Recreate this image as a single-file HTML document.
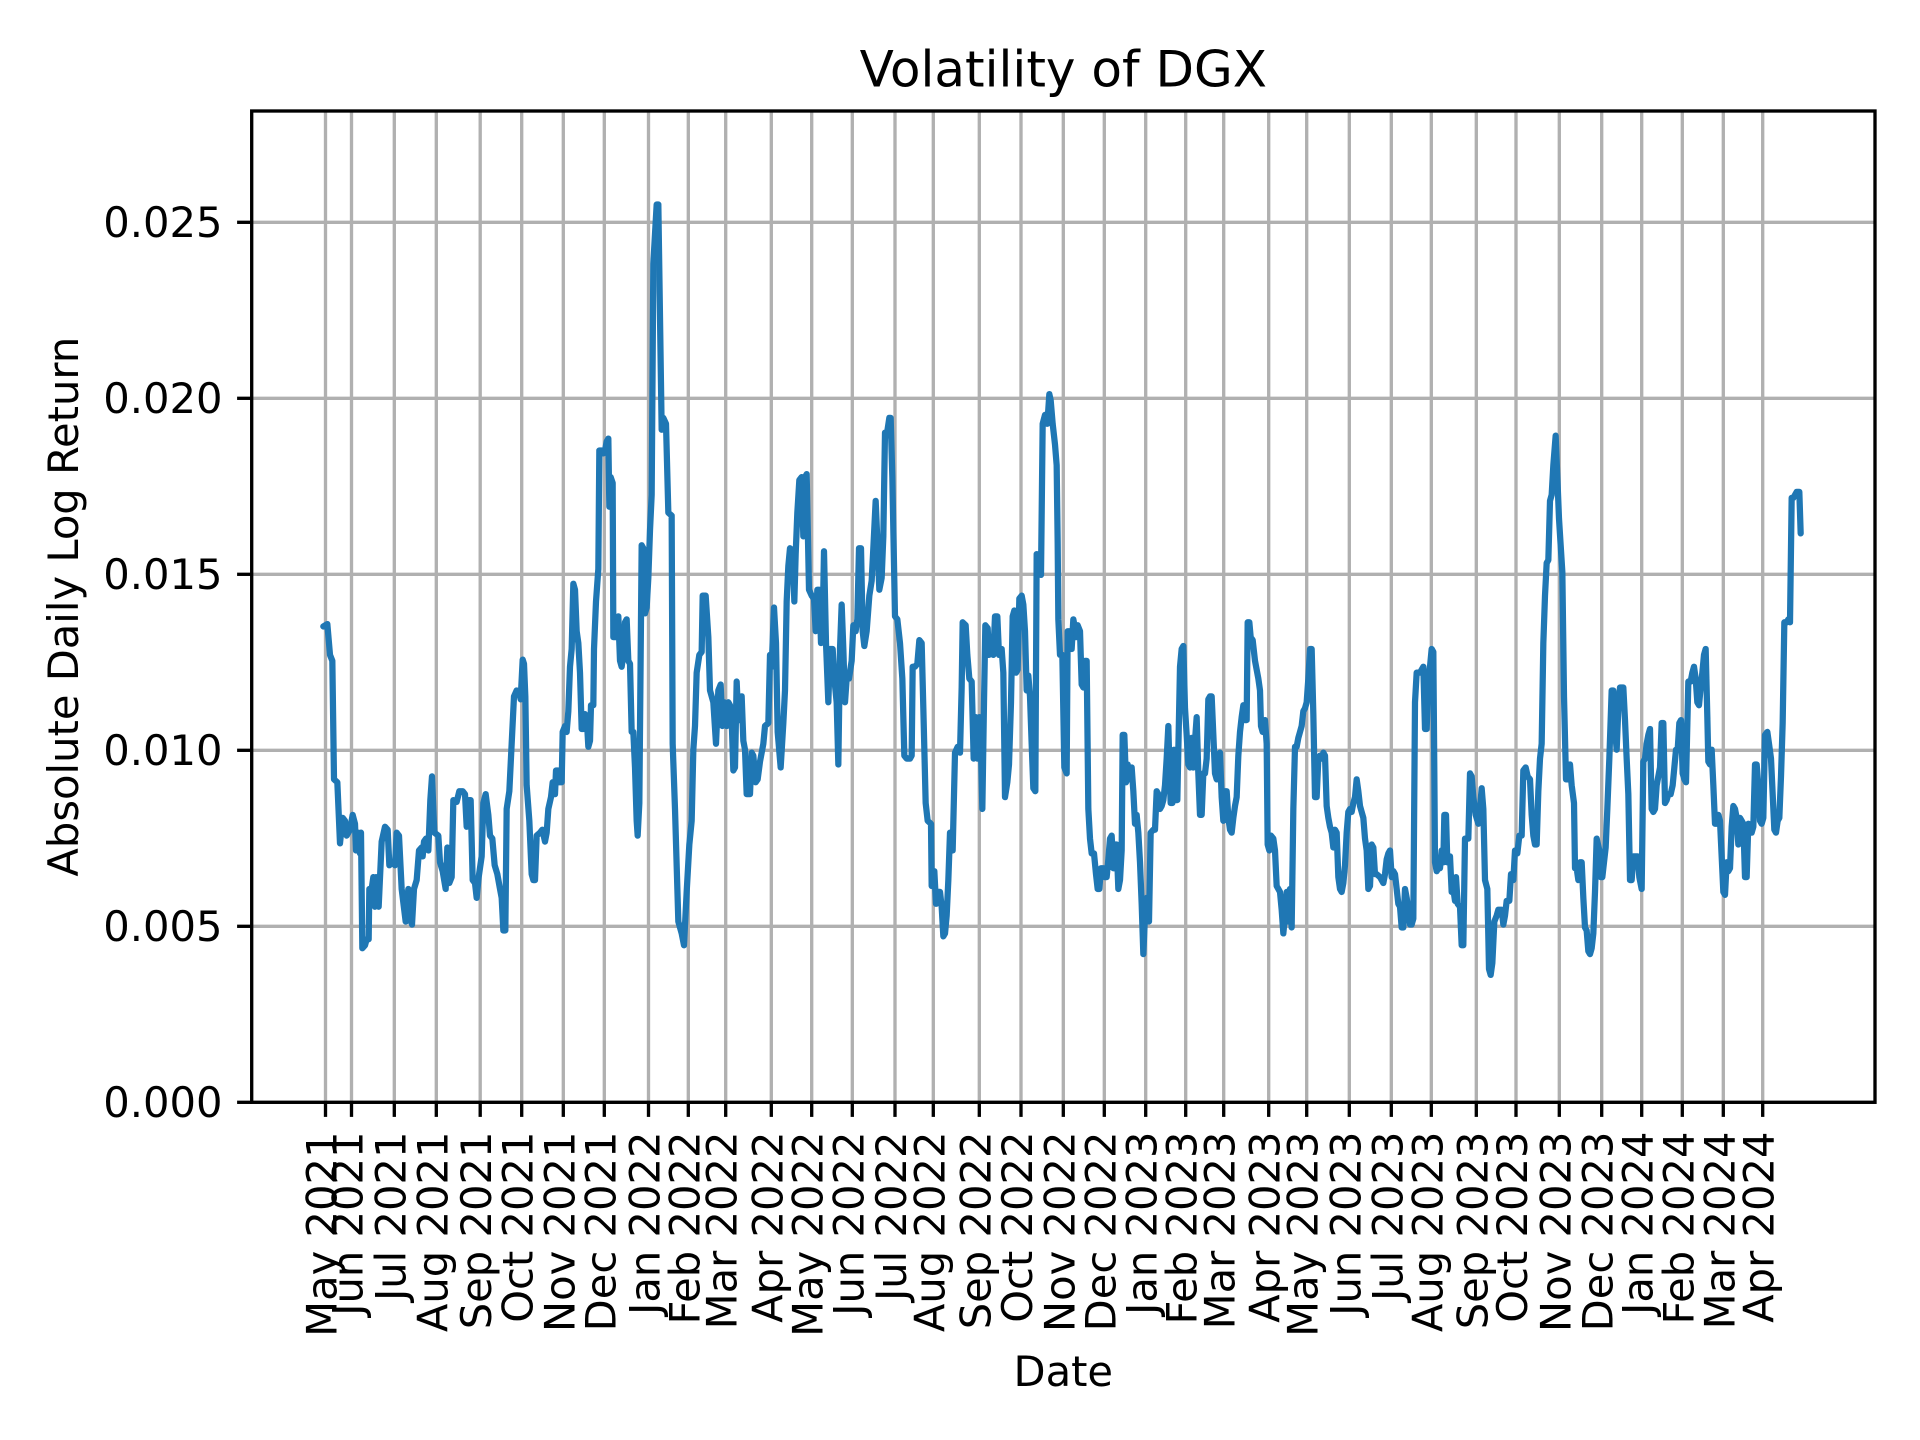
<!DOCTYPE html>
<html>
<head>
<meta charset="utf-8">
<style>
  html, body { margin: 0; padding: 0; background: #ffffff; }
  svg { display: block; }
  text { font-family: "DejaVu Sans", "Liberation Sans", sans-serif; fill: #000; }
</style>
</head>
<body>
<svg width="1920" height="1440" viewBox="0 0 1920 1440" xmlns="http://www.w3.org/2000/svg">
  <rect x="0" y="0" width="1920" height="1440" fill="#ffffff"/>

  <!-- horizontal grid -->
  <g stroke="#b0b0b0" stroke-width="3.33" fill="none">
    <line x1="251.7" x2="1875" y1="1102.3" y2="1102.3"/>
    <line x1="251.7" x2="1875" y1="926.3" y2="926.3"/>
    <line x1="251.7" x2="1875" y1="750.3" y2="750.3"/>
    <line x1="251.7" x2="1875" y1="574.3" y2="574.3"/>
    <line x1="251.7" x2="1875" y1="398.3" y2="398.3"/>
    <line x1="251.7" x2="1875" y1="222.3" y2="222.3"/>
  </g>
  <!-- vertical grid -->
  <g stroke="#b0b0b0" stroke-width="3.33" fill="none">
    <line x1="325.5" x2="325.5" y1="111" y2="1102.3"/>
    <line x1="351.5" x2="351.5" y1="111" y2="1102.3"/>
    <line x1="394.3" x2="394.3" y1="111" y2="1102.3"/>
    <line x1="436.3" x2="436.3" y1="111" y2="1102.3"/>
    <line x1="480.2" x2="480.2" y1="111" y2="1102.3"/>
    <line x1="521.7" x2="521.7" y1="111" y2="1102.3"/>
    <line x1="563.3" x2="563.3" y1="111" y2="1102.3"/>
    <line x1="604.3" x2="604.3" y1="111" y2="1102.3"/>
    <line x1="648.5" x2="648.5" y1="111" y2="1102.3"/>
    <line x1="688.3" x2="688.3" y1="111" y2="1102.3"/>
    <line x1="725.7" x2="725.7" y1="111" y2="1102.3"/>
    <line x1="771.3" x2="771.3" y1="111" y2="1102.3"/>
    <line x1="811.7" x2="811.7" y1="111" y2="1102.3"/>
    <line x1="852.3" x2="852.3" y1="111" y2="1102.3"/>
    <line x1="895" x2="895" y1="111" y2="1102.3"/>
    <line x1="933.3" x2="933.3" y1="111" y2="1102.3"/>
    <line x1="979.3" x2="979.3" y1="111" y2="1102.3"/>
    <line x1="1021" x2="1021" y1="111" y2="1102.3"/>
    <line x1="1063.3" x2="1063.3" y1="111" y2="1102.3"/>
    <line x1="1104.3" x2="1104.3" y1="111" y2="1102.3"/>
    <line x1="1145.7" x2="1145.7" y1="111" y2="1102.3"/>
    <line x1="1185.7" x2="1185.7" y1="111" y2="1102.3"/>
    <line x1="1223.7" x2="1223.7" y1="111" y2="1102.3"/>
    <line x1="1268.7" x2="1268.7" y1="111" y2="1102.3"/>
    <line x1="1306.7" x2="1306.7" y1="111" y2="1102.3"/>
    <line x1="1349.3" x2="1349.3" y1="111" y2="1102.3"/>
    <line x1="1391.3" x2="1391.3" y1="111" y2="1102.3"/>
    <line x1="1431.3" x2="1431.3" y1="111" y2="1102.3"/>
    <line x1="1476.3" x2="1476.3" y1="111" y2="1102.3"/>
    <line x1="1516" x2="1516" y1="111" y2="1102.3"/>
    <line x1="1559.3" x2="1559.3" y1="111" y2="1102.3"/>
    <line x1="1601.7" x2="1601.7" y1="111" y2="1102.3"/>
    <line x1="1641.7" x2="1641.7" y1="111" y2="1102.3"/>
    <line x1="1682.3" x2="1682.3" y1="111" y2="1102.3"/>
    <line x1="1723.3" x2="1723.3" y1="111" y2="1102.3"/>
    <line x1="1762.7" x2="1762.7" y1="111" y2="1102.3"/>
  </g>

  <!-- data line (traced segments) -->
  <g fill="none" stroke="#1f77b4" stroke-width="6.25" stroke-linejoin="round" stroke-linecap="round">
    <g transform="translate(250,222.3) scale(0.333333,0.592593) translate(0,-70)">
      <polyline vector-effect="non-scaling-stroke" points="220,752 232,748 240,800 247,810 252,1010 262,1015 270,1118 278,1075 285,1080 290,1105 300,1095 308,1070 315,1085 318,1130 325,1100 330,1135 333,1100 337,1295 345,1290 350,1280 356,1280 358,1195 365,1195 370,1175 375,1225 378,1175 386,1225 395,1115 405,1090 413,1095 418,1155 428,1150 435,1155 440,1100 447,1105 455,1195 467,1250 475,1195 480,1245 486,1255 492,1195 500,1180 507,1130 515,1125 518,1140 522,1115 528,1110 535,1130 541,1045 546,1005 553,1100 565,1105 570,1150 578,1165 587,1195 592,1125 598,1185 605,1175 610,1045 620,1048 628,1030 638,1030 645,1035 650,1090 657,1045 662,1045 668,1180 675,1185 680,1210 686,1175 695,1140 700,1050 707,1035 715,1070 720,1105 727,1110 734,1155 742,1170 750,1195 755,1210 760,1265 766,1265 770,1060 778,1030 785,950 792,870 800,860 808,865 812,875 818,808 822,815 826,870 830,1020 838,1080 845,1170 850,1180 855,1180 860,1105 870,1100 877,1095 885,1115 890,1100 895,1060 903,1040 908,1015 915,1035 918,995 925,995 928,1015 935,1015 938,930 945,920 950,930 955,895 960,820 965,790 970,680 975,690 980,760 985,780 990,830 995,925 1000,925 1005,900 1010,905 1015,955 1020,945 1023,885 1030,885 1032,790 1038,710 1045,655 1048,455 1055,455 1060,460 1065,455 1070,440 1075,435 1078,550 1082,500 1088,510 1090,770 1095,770 1100,740 1105,735 1110,810 1115,820 1120,800 1125,745 1130,740 1135,810 1140,815 1145,930 1150,930 1155,990 1160,1080 1163,1105 1168,1050 1172,800 1175,615 1180,620 1185,730 1190,720 1195,670 1200,590 1205,530 1210,140 1215,90 1220,40 1224,40"/>
    </g>
    <g transform="translate(660,222.3) scale(0.333333,0.592593) translate(0,-70)">
      <polyline vector-effect="non-scaling-stroke" points="-5,40 5,420 10,400 18,410 25,560 35,565 38,950 45,1060 55,1250 65,1270 72,1290 80,1200 88,1120 95,1080 100,960 105,920 110,830 118,800 125,795 128,700 137,700 145,770 150,860 160,880 168,950 175,860 182,850 187,920 192,880 200,920 205,880 210,885 215,910 220,995 225,990 230,845 235,910 240,895 245,870 250,945 255,960 260,1035 270,1035 275,965 280,970 287,1015 293,1010 300,980 310,950 315,920 325,915 330,800 335,820 342,720 348,780 353,930 362,990 370,915 375,860 380,710 385,650 390,620 398,625 403,710 407,630 412,560 418,505 425,500 430,600 435,500 440,495 447,690 455,700 462,705 467,760 472,690 478,690 483,780 488,750 492,625 498,780 505,880 510,790 518,790 523,840 530,880 535,985 540,790 545,715 550,790 555,880 560,840 567,840 575,810 580,750 587,760 592,740 597,620 603,620 608,760 613,785 620,760 628,700 635,675 640,620 647,540 653,620 658,690 665,670 670,600 675,425 680,430 688,400 692,400 697,500 705,735 712,740 720,780 727,840 733,970 740,975 750,975 755,970 758,820 765,820 772,815 778,775 785,780 790,890 797,1050 803,1080 813,1085 815,1190 823,1165 828,1220 833,1200 840,1200 845,1225 850,1275 855,1270 860,1240 865,1180 870,1100 878,1130 885,965 893,955 900,965 905,855 908,745 917,750 922,800 928,840 935,845 941,975 947,905 952,975 958,905 962,935 967,1060 972,880 976,750 983,755 987,800 993,795 1000,800 1005,735 1012,735 1017,800 1025,790 1030,830 1035,1040 1042,1015 1047,985 1053,880 1058,735 1063,725 1068,830 1073,825 1078,705 1085,700 1090,715 1095,760 1100,860 1105,835 1110,870 1115,950 1120,1025 1126,1030 1130,630 1137,635 1143,665 1148,410 1155,395 1162,410 1168,360 1172,370 1178,410 1185,445 1190,480 1193,610 1195,740 1200,800 1207,800 1213,990 1220,1000 1223,760 1230,760 1235,790 1240,740 1245,755 1250,760"/>
    </g>
    <g transform="translate(1070,222.3) scale(0.333333,0.592593) translate(0,-70)">
      <polyline vector-effect="non-scaling-stroke" points="18,770 23,750 30,760 35,850 40,855 45,810 50,810 55,1060 60,1110 65,1135 72,1135 78,1170 83,1195 88,1195 93,1160 100,1160 105,1175 110,1175 115,1145 120,1110 125,1105 130,1160 135,1120 140,1120 145,1195 150,1180 155,1130 158,935 163,935 168,1015 173,985 178,1010 185,990 190,1030 195,1085 200,1070 205,1100 210,1150 215,1220 220,1305 225,1240 230,1210 237,1250 242,1100 250,1095 255,1095 260,1030 265,1035 270,1060 275,1055 280,1045 285,1020 290,975 295,920 298,985 302,1050 307,1050 312,960 317,1045 322,1045 330,820 335,790 340,785 345,890 350,935 355,985 360,990 365,940 370,990 375,945 380,905 385,1000 390,1070 395,1070 400,1000 405,1000 410,975 415,875 420,870 425,870 430,935 435,1000 440,1010 445,970 450,965 455,1040 460,1080 465,1030 470,1030 475,1075 480,1095 485,1100 490,1075 495,1055 500,1040 505,970 510,930 515,905 520,885 525,910 530,910 533,745 538,745 542,770 548,775 555,810 565,840 570,860 573,920 578,930 585,910 590,950 593,1120 598,1130 603,1105 610,1110 615,1130 620,1190 625,1195 630,1200 635,1230 640,1270 645,1240 650,1200 655,1250 660,1195 665,1260 670,1060 675,955 680,955 685,940 690,930 695,920 700,895 705,890 710,880 715,840 720,790 725,790 730,900 735,1040 740,1040 745,975 750,970 755,975 760,965 765,970 770,1055 775,1075 780,1090 785,1100 790,1125 795,1095 800,1100 805,1175 810,1195 815,1200 820,1185 825,1155 830,1100 835,1065 840,1060 845,1065 850,1050 855,1040 860,1010 865,1030 870,1055 875,1065 880,1075 885,1110 890,1130 895,1195 900,1190 905,1120 910,1125 915,1170 920,1170 930,1175 935,1180 940,1185 945,1170 950,1145 955,1135 960,1130 965,1175 970,1165 975,1170 980,1195 985,1220 990,1225 995,1260 1000,1260 1005,1195 1010,1210 1015,1230 1020,1255 1025,1255 1030,1245 1035,880 1040,830 1045,830 1050,830 1055,825 1060,820 1065,925 1070,925 1075,840 1080,820 1085,790 1090,795 1093,1000 1095,1150 1100,1165 1105,1160 1110,1160 1115,1130 1120,1150 1123,1070 1128,1070 1132,1150 1140,1140 1145,1200 1150,1195 1155,1215 1158,1175 1163,1220 1170,1225"/>
    </g>
    <g transform="translate(1460,222.3) scale(0.333333,0.592593) translate(0,-70)">
      <polyline vector-effect="non-scaling-stroke" points="0,1225 5,1290 10,1290 15,1110 25,1110 30,1000 35,1005 40,1040 47,1070 55,1085 60,1060 65,1025 70,1060 75,1180 82,1195 87,1330 92,1340 97,1320 103,1250 110,1240 115,1230 125,1230 130,1255 135,1240 140,1215 148,1215 153,1170 160,1180 165,1130 172,1135 178,1105 185,1105 190,995 197,990 203,1005 210,1010 215,1070 220,1105 225,1120 230,1120 235,1030 240,975 245,950 250,780 255,700 260,645 265,640 270,540 275,530 280,480 287,430 292,500 297,570 302,615 307,660 312,870 318,1010 323,1010 330,985 335,1020 342,1050 345,1160 350,1160 355,1180 360,1150 365,1150 370,1210 375,1260 380,1265 385,1300 390,1305 395,1295 400,1270 405,1200 410,1110 418,1130 422,1175 427,1175 432,1150 437,1125 442,1060 448,975 455,860 460,860 465,925 470,960 475,890 480,855 485,855 490,855 495,910 500,975 505,1035 510,1180 515,1180 520,1140 528,1140 533,1140 538,1175 545,1195 550,980 555,975 560,950 565,935 570,925 575,1060 580,1065 585,1060 590,1020 595,1005 600,990 605,915 610,915 615,1050 620,1045 625,1035 632,1035 638,1020 643,990 648,960 653,960 658,915 663,910 668,1000 673,1010 678,1015 685,845 692,845 697,830 702,820 707,840 712,880 717,885 722,855 727,830 732,800 737,790 742,905 745,980 750,985 755,960 760,1020 765,1085 770,1085 775,1070 780,1080 785,1140 790,1200 795,1205 800,1150 805,1165 810,1160 815,1090 820,1055 825,1060 830,1075 835,1120 840,1075 845,1080 850,1085 855,1175 860,1175 865,1085 870,1100 875,1100 880,1090 885,985 890,985 895,1020 900,1080 905,1085 910,1075 915,935 922,930 927,950 933,975 938,1035 943,1095 948,1100 953,1080 958,1075 963,1005 968,915 973,745 980,745 985,740 990,745 995,535 1000,535 1010,525 1018,525 1022,595"/>
    </g>
  </g>

  <!-- spines -->
  <rect x="251.7" y="111" width="1623.3" height="991.3" fill="none" stroke="#000" stroke-width="3.33" stroke-linejoin="miter"/>

  <!-- y ticks -->
  <g stroke="#000" stroke-width="3.33">
    <line x1="237.1" x2="251.7" y1="1102.3" y2="1102.3"/>
    <line x1="237.1" x2="251.7" y1="926.3" y2="926.3"/>
    <line x1="237.1" x2="251.7" y1="750.3" y2="750.3"/>
    <line x1="237.1" x2="251.7" y1="574.3" y2="574.3"/>
    <line x1="237.1" x2="251.7" y1="398.3" y2="398.3"/>
    <line x1="237.1" x2="251.7" y1="222.3" y2="222.3"/>
  </g>
  <g font-size="41.67" text-anchor="end">
    <text x="222.5" y="1116.8">0.000</text>
    <text x="222.5" y="940.8">0.005</text>
    <text x="222.5" y="764.8">0.010</text>
    <text x="222.5" y="588.8">0.015</text>
    <text x="222.5" y="412.8">0.020</text>
    <text x="222.5" y="236.8">0.025</text>
  </g>

  <!-- x ticks -->
  <g stroke="#000" stroke-width="3.33">
    <line x1="325.5" x2="325.5" y1="1102.3" y2="1116.9"/>
    <line x1="351.5" x2="351.5" y1="1102.3" y2="1116.9"/>
    <line x1="394.3" x2="394.3" y1="1102.3" y2="1116.9"/>
    <line x1="436.3" x2="436.3" y1="1102.3" y2="1116.9"/>
    <line x1="480.2" x2="480.2" y1="1102.3" y2="1116.9"/>
    <line x1="521.7" x2="521.7" y1="1102.3" y2="1116.9"/>
    <line x1="563.3" x2="563.3" y1="1102.3" y2="1116.9"/>
    <line x1="604.3" x2="604.3" y1="1102.3" y2="1116.9"/>
    <line x1="648.5" x2="648.5" y1="1102.3" y2="1116.9"/>
    <line x1="688.3" x2="688.3" y1="1102.3" y2="1116.9"/>
    <line x1="725.7" x2="725.7" y1="1102.3" y2="1116.9"/>
    <line x1="771.3" x2="771.3" y1="1102.3" y2="1116.9"/>
    <line x1="811.7" x2="811.7" y1="1102.3" y2="1116.9"/>
    <line x1="852.3" x2="852.3" y1="1102.3" y2="1116.9"/>
    <line x1="895" x2="895" y1="1102.3" y2="1116.9"/>
    <line x1="933.3" x2="933.3" y1="1102.3" y2="1116.9"/>
    <line x1="979.3" x2="979.3" y1="1102.3" y2="1116.9"/>
    <line x1="1021" x2="1021" y1="1102.3" y2="1116.9"/>
    <line x1="1063.3" x2="1063.3" y1="1102.3" y2="1116.9"/>
    <line x1="1104.3" x2="1104.3" y1="1102.3" y2="1116.9"/>
    <line x1="1145.7" x2="1145.7" y1="1102.3" y2="1116.9"/>
    <line x1="1185.7" x2="1185.7" y1="1102.3" y2="1116.9"/>
    <line x1="1223.7" x2="1223.7" y1="1102.3" y2="1116.9"/>
    <line x1="1268.7" x2="1268.7" y1="1102.3" y2="1116.9"/>
    <line x1="1306.7" x2="1306.7" y1="1102.3" y2="1116.9"/>
    <line x1="1349.3" x2="1349.3" y1="1102.3" y2="1116.9"/>
    <line x1="1391.3" x2="1391.3" y1="1102.3" y2="1116.9"/>
    <line x1="1431.3" x2="1431.3" y1="1102.3" y2="1116.9"/>
    <line x1="1476.3" x2="1476.3" y1="1102.3" y2="1116.9"/>
    <line x1="1516" x2="1516" y1="1102.3" y2="1116.9"/>
    <line x1="1559.3" x2="1559.3" y1="1102.3" y2="1116.9"/>
    <line x1="1601.7" x2="1601.7" y1="1102.3" y2="1116.9"/>
    <line x1="1641.7" x2="1641.7" y1="1102.3" y2="1116.9"/>
    <line x1="1682.3" x2="1682.3" y1="1102.3" y2="1116.9"/>
    <line x1="1723.3" x2="1723.3" y1="1102.3" y2="1116.9"/>
    <line x1="1762.7" x2="1762.7" y1="1102.3" y2="1116.9"/>
  </g>
  <g font-size="41.67" text-anchor="end">
    <text transform="translate(336.5,1131.5) rotate(-90)">May 2021</text>
    <text transform="translate(362.5,1131.5) rotate(-90)">Jun 2021</text>
    <text transform="translate(405.3,1131.5) rotate(-90)">Jul 2021</text>
    <text transform="translate(447.3,1131.5) rotate(-90)">Aug 2021</text>
    <text transform="translate(491.2,1131.5) rotate(-90)">Sep 2021</text>
    <text transform="translate(532.7,1131.5) rotate(-90)">Oct 2021</text>
    <text transform="translate(574.3,1131.5) rotate(-90)">Nov 2021</text>
    <text transform="translate(615.3,1131.5) rotate(-90)">Dec 2021</text>
    <text transform="translate(659.5,1131.5) rotate(-90)">Jan 2022</text>
    <text transform="translate(699.3,1131.5) rotate(-90)">Feb 2022</text>
    <text transform="translate(736.7,1131.5) rotate(-90)">Mar 2022</text>
    <text transform="translate(782.3,1131.5) rotate(-90)">Apr 2022</text>
    <text transform="translate(822.7,1131.5) rotate(-90)">May 2022</text>
    <text transform="translate(863.3,1131.5) rotate(-90)">Jun 2022</text>
    <text transform="translate(906,1131.5) rotate(-90)">Jul 2022</text>
    <text transform="translate(944.3,1131.5) rotate(-90)">Aug 2022</text>
    <text transform="translate(990.3,1131.5) rotate(-90)">Sep 2022</text>
    <text transform="translate(1032,1131.5) rotate(-90)">Oct 2022</text>
    <text transform="translate(1074.3,1131.5) rotate(-90)">Nov 2022</text>
    <text transform="translate(1115.3,1131.5) rotate(-90)">Dec 2022</text>
    <text transform="translate(1156.7,1131.5) rotate(-90)">Jan 2023</text>
    <text transform="translate(1196.7,1131.5) rotate(-90)">Feb 2023</text>
    <text transform="translate(1234.7,1131.5) rotate(-90)">Mar 2023</text>
    <text transform="translate(1279.7,1131.5) rotate(-90)">Apr 2023</text>
    <text transform="translate(1317.7,1131.5) rotate(-90)">May 2023</text>
    <text transform="translate(1360.3,1131.5) rotate(-90)">Jun 2023</text>
    <text transform="translate(1402.3,1131.5) rotate(-90)">Jul 2023</text>
    <text transform="translate(1442.3,1131.5) rotate(-90)">Aug 2023</text>
    <text transform="translate(1487.3,1131.5) rotate(-90)">Sep 2023</text>
    <text transform="translate(1527,1131.5) rotate(-90)">Oct 2023</text>
    <text transform="translate(1570.3,1131.5) rotate(-90)">Nov 2023</text>
    <text transform="translate(1612.7,1131.5) rotate(-90)">Dec 2023</text>
    <text transform="translate(1652.7,1131.5) rotate(-90)">Jan 2024</text>
    <text transform="translate(1693.3,1131.5) rotate(-90)">Feb 2024</text>
    <text transform="translate(1734.3,1131.5) rotate(-90)">Mar 2024</text>
    <text transform="translate(1773.7,1131.5) rotate(-90)">Apr 2024</text>
  </g>

  <!-- axis labels and title -->
  <text x="1063.3" y="1386" font-size="41.67" text-anchor="middle">Date</text>
  <text transform="translate(78,606.7) rotate(-90)" font-size="41.67" text-anchor="middle">Absolute Daily Log Return</text>
  <text x="1063.3" y="86.7" font-size="50" text-anchor="middle">Volatility of DGX</text>
</svg>
</body>
</html>
